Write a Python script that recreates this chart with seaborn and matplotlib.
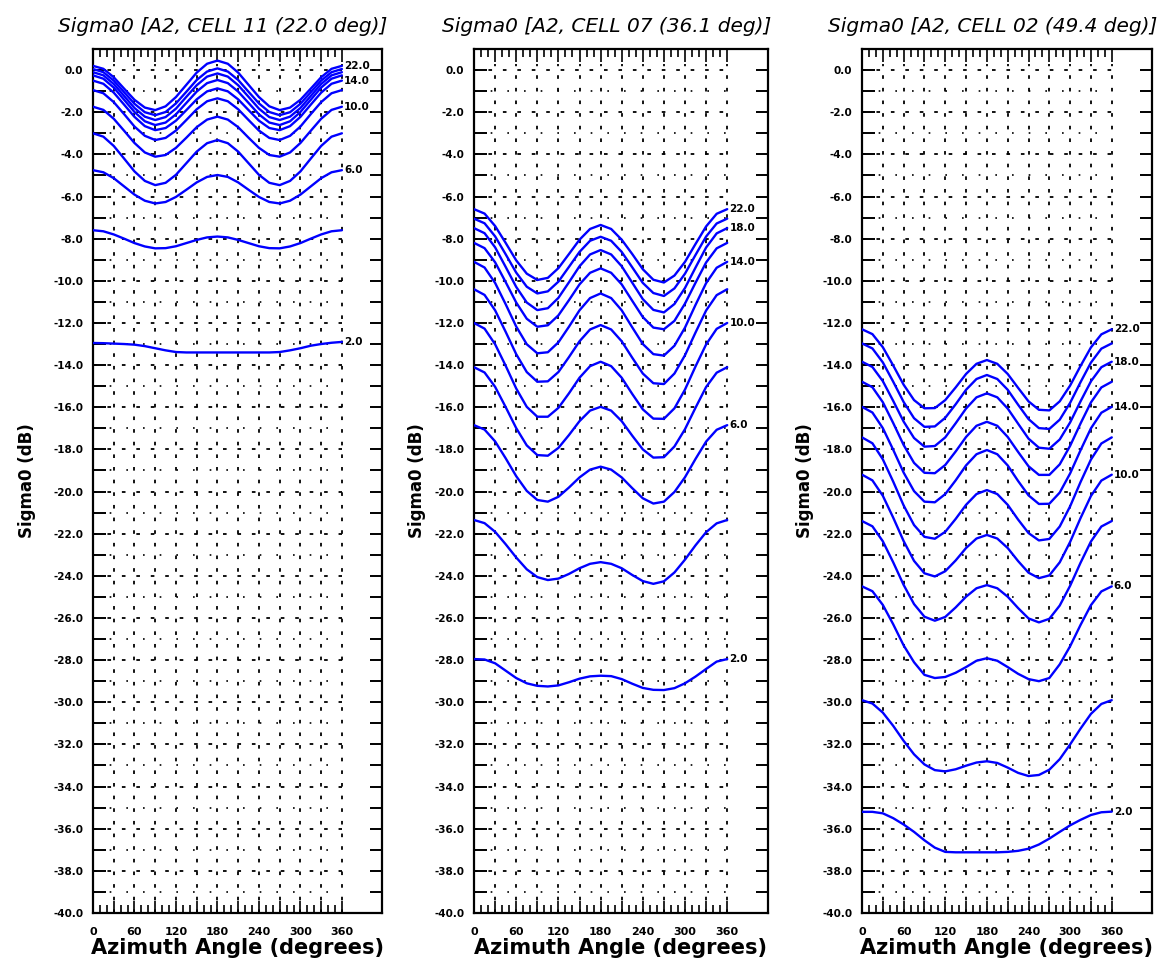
import numpy as np
import pandas as pd
import matplotlib
matplotlib.use("Agg")
import matplotlib.pyplot as plt
import seaborn as sns
from matplotlib.ticker import FixedLocator, MultipleLocator, FuncFormatter

# azimuth samples (degrees) and wind speeds (m/s), one curve per speed
azimuth = list(range(0, 361, 15))
wind_speeds = [22, 20, 18, 16, 14, 12, 10, 8, 6, 4, 2]

# CELL 11, incidence 22.0 deg
cell11_sigma0 = [
    [0.20, 0.06, -0.34, -0.88, -1.41, -1.78, -1.90, -1.72, -1.28, -0.70, -0.12, 0.30, 0.45, 0.30, -0.12, -0.70, -1.28, -1.72, -1.90, -1.78, -1.41, -0.88, -0.34, 0.06, 0.20],
    [0.05, -0.10, -0.50, -1.05, -1.60, -2.00, -2.14, -1.99, -1.58, -1.03, -0.47, -0.07, 0.08, -0.07, -0.47, -1.03, -1.58, -1.99, -2.14, -2.00, -1.60, -1.05, -0.50, -0.10, 0.05],
    [-0.10, -0.25, -0.66, -1.23, -1.80, -2.21, -2.37, -2.23, -1.83, -1.27, -0.72, -0.31, -0.16, -0.31, -0.72, -1.27, -1.83, -2.23, -2.37, -2.21, -1.80, -1.23, -0.66, -0.25, -0.10],
    [-0.25, -0.41, -0.83, -1.41, -1.99, -2.43, -2.61, -2.49, -2.10, -1.56, -1.02, -0.62, -0.47, -0.62, -1.02, -1.56, -2.10, -2.49, -2.61, -2.43, -1.99, -1.41, -0.83, -0.41, -0.25],
    [-0.50, -0.65, -1.07, -1.64, -2.22, -2.66, -2.85, -2.75, -2.40, -1.90, -1.39, -1.01, -0.87, -1.01, -1.39, -1.90, -2.40, -2.75, -2.85, -2.66, -2.22, -1.64, -1.07, -0.65, -0.50],
    [-0.95, -1.10, -1.52, -2.09, -2.68, -3.12, -3.32, -3.22, -2.87, -2.37, -1.86, -1.48, -1.34, -1.48, -1.86, -2.37, -2.87, -3.22, -3.32, -3.12, -2.68, -2.09, -1.52, -1.10, -0.95],
    [-1.74, -1.89, -2.31, -2.88, -3.46, -3.91, -4.11, -4.03, -3.69, -3.21, -2.71, -2.35, -2.21, -2.35, -2.71, -3.21, -3.69, -4.03, -4.11, -3.91, -3.46, -2.88, -2.31, -1.89, -1.74],
    [-3.00, -3.16, -3.60, -4.20, -4.81, -5.26, -5.46, -5.35, -4.97, -4.42, -3.87, -3.47, -3.32, -3.47, -3.87, -4.42, -4.97, -5.35, -5.46, -5.26, -4.81, -4.20, -3.60, -3.16, -3.00],
    [-4.75, -4.85, -5.13, -5.52, -5.91, -6.20, -6.33, -6.26, -6.02, -5.68, -5.33, -5.07, -4.98, -5.07, -5.33, -5.68, -6.02, -6.26, -6.33, -6.20, -5.91, -5.52, -5.13, -4.85, -4.75],
    [-7.60, -7.65, -7.80, -8.00, -8.21, -8.37, -8.46, -8.45, -8.36, -8.21, -8.06, -7.94, -7.90, -7.94, -8.06, -8.21, -8.36, -8.45, -8.46, -8.37, -8.21, -8.00, -7.80, -7.65, -7.60],
    [-12.95, -12.96, -12.98, -13.00, -13.03, -13.10, -13.20, -13.30, -13.38, -13.40, -13.40, -13.40, -13.40, -13.40, -13.40, -13.40, -13.40, -13.40, -13.38, -13.30, -13.20, -13.08, -13.00, -12.94, -12.90],
]

# CELL 07, incidence 36.1 deg
cell07_sigma0 = [
    [-6.60, -6.81, -7.40, -8.20, -9.03, -9.66, -9.96, -9.86, -9.40, -8.73, -8.05, -7.54, -7.35, -7.54, -8.05, -8.73, -9.45, -9.95, -10.08, -9.75, -9.10, -8.25, -7.42, -6.82, -6.60],
    [-7.05, -7.27, -7.89, -8.74, -9.61, -10.28, -10.60, -10.50, -10.04, -9.34, -8.63, -8.10, -7.91, -8.10, -8.63, -9.36, -10.10, -10.58, -10.72, -10.36, -9.66, -8.77, -7.90, -7.28, -7.05],
    [-7.50, -7.74, -8.41, -9.34, -10.29, -11.03, -11.39, -11.30, -10.81, -10.07, -9.31, -8.75, -8.54, -8.75, -9.31, -10.09, -10.87, -11.38, -11.50, -11.10, -10.34, -9.37, -8.42, -7.75, -7.50],
    [-8.20, -8.45, -9.12, -10.06, -11.03, -11.80, -12.18, -12.11, -11.64, -10.92, -10.17, -9.62, -9.41, -9.62, -10.17, -10.95, -11.72, -12.22, -12.30, -11.90, -11.08, -10.09, -9.13, -8.46, -8.20],
    [-9.10, -9.37, -10.10, -11.11, -12.17, -13.01, -13.44, -13.39, -12.92, -12.18, -11.40, -10.82, -10.60, -10.82, -11.40, -12.21, -13.00, -13.48, -13.55, -13.08, -12.22, -11.14, -10.11, -9.38, -9.10],
    [-10.40, -10.67, -11.40, -12.42, -13.48, -14.33, -14.79, -14.77, -14.33, -13.62, -12.87, -12.31, -12.10, -12.31, -12.87, -13.65, -14.40, -14.86, -14.90, -14.40, -13.53, -12.45, -11.41, -10.68, -10.40],
    [-12.00, -12.27, -13.01, -14.03, -15.11, -15.98, -16.45, -16.45, -16.03, -15.34, -14.60, -14.05, -13.84, -14.05, -14.60, -15.37, -16.10, -16.54, -16.55, -16.05, -15.16, -14.06, -13.02, -12.28, -12.00],
    [-14.10, -14.35, -15.03, -15.99, -16.99, -17.81, -18.27, -18.30, -17.93, -17.32, -16.66, -16.16, -15.98, -16.16, -16.66, -17.35, -18.00, -18.39, -18.37, -17.86, -17.04, -16.02, -15.04, -14.36, -14.10],
    [-16.85, -17.06, -17.62, -18.42, -19.27, -19.97, -20.40, -20.48, -20.25, -19.81, -19.33, -18.96, -18.82, -18.96, -19.33, -19.84, -20.32, -20.57, -20.48, -20.02, -19.32, -18.45, -17.63, -17.07, -16.85],
    [-21.35, -21.50, -21.91, -22.50, -23.13, -23.69, -24.06, -24.20, -24.13, -23.91, -23.64, -23.43, -23.35, -23.43, -23.64, -23.96, -24.25, -24.38, -24.26, -23.84, -23.23, -22.55, -21.93, -21.51, -21.35],
    [-27.95, -27.97, -28.15, -28.50, -28.85, -29.10, -29.22, -29.25, -29.20, -29.05, -28.88, -28.77, -28.74, -28.76, -28.90, -29.12, -29.32, -29.41, -29.42, -29.33, -29.10, -28.78, -28.42, -28.07, -27.95],
]

# CELL 02, incidence 49.4 deg
cell02_sigma0 = [
    [-12.30, -12.53, -13.15, -14.02, -14.93, -15.66, -16.05, -16.04, -15.66, -15.06, -14.42, -13.94, -13.76, -13.94, -14.42, -15.08, -15.72, -16.12, -16.15, -15.72, -14.97, -14.04, -13.16, -12.54, -12.30],
    [-12.97, -13.21, -13.87, -14.79, -15.75, -16.52, -16.93, -16.91, -16.50, -15.86, -15.17, -14.66, -14.47, -14.66, -15.17, -15.88, -16.56, -16.99, -17.03, -16.59, -15.79, -14.81, -13.88, -13.22, -12.97],
    [-13.84, -14.09, -14.76, -15.70, -16.68, -17.46, -17.87, -17.84, -17.43, -16.76, -16.06, -15.53, -15.34, -15.53, -16.06, -16.78, -17.49, -17.92, -17.97, -17.53, -16.72, -15.72, -14.77, -14.10, -13.84],
    [-14.79, -15.05, -15.76, -16.75, -17.79, -18.64, -19.11, -19.13, -18.74, -18.10, -17.41, -16.88, -16.69, -16.88, -17.41, -18.12, -18.80, -19.21, -19.21, -18.71, -17.83, -16.77, -15.77, -15.06, -14.79],
    [-15.98, -16.25, -16.99, -18.02, -19.10, -19.98, -20.48, -20.51, -20.12, -19.47, -18.76, -18.23, -18.03, -18.23, -18.76, -19.50, -20.18, -20.59, -20.58, -20.05, -19.14, -18.04, -17.00, -16.26, -15.98],
    [-17.43, -17.71, -18.47, -19.53, -20.66, -21.59, -22.15, -22.24, -21.91, -21.30, -20.63, -20.12, -19.93, -20.12, -20.63, -21.33, -21.97, -22.32, -22.25, -21.66, -20.70, -19.55, -18.48, -17.72, -17.43],
    [-19.20, -19.47, -20.20, -21.24, -22.35, -23.29, -23.88, -24.03, -23.78, -23.27, -22.68, -22.23, -22.06, -22.23, -22.68, -23.30, -23.85, -24.11, -23.98, -23.36, -22.39, -21.26, -20.21, -19.48, -19.20],
    [-21.40, -21.65, -22.36, -23.36, -24.43, -25.34, -25.94, -26.13, -25.95, -25.50, -24.99, -24.59, -24.44, -24.59, -24.99, -25.53, -26.02, -26.21, -26.04, -25.41, -24.47, -23.38, -22.37, -21.66, -21.40],
    [-24.50, -24.73, -25.38, -26.30, -27.30, -28.10, -28.70, -28.85, -28.80, -28.60, -28.33, -28.03, -27.91, -28.03, -28.33, -28.65, -28.90, -29.00, -28.85, -28.20, -27.34, -26.33, -25.39, -24.74, -24.50],
    [-29.90, -30.06, -30.49, -31.12, -31.83, -32.47, -32.95, -33.22, -33.28, -33.18, -33.01, -32.86, -32.80, -32.88, -33.10, -33.35, -33.50, -33.45, -33.20, -32.70, -32.00, -31.25, -30.55, -30.08, -29.90],
    [-35.20, -35.20, -35.27, -35.50, -35.80, -36.15, -36.55, -36.90, -37.10, -37.12, -37.12, -37.12, -37.12, -37.12, -37.10, -37.05, -36.95, -36.75, -36.47, -36.15, -35.84, -35.58, -35.35, -35.22, -35.19],
]

titles = [
    "Sigma0 [A2, CELL 11 (22.0 deg)]",
    "Sigma0 [A2, CELL 07 (36.1 deg)]",
    "Sigma0 [A2, CELL 02 (49.4 deg)]",
]
panels = [cell11_sigma0, cell07_sigma0, cell02_sigma0]
labelled_speeds = [[22, 14, 10, 6, 2], [22, 18, 14, 10, 6, 2], [22, 18, 14, 10, 6, 2]]

sns.set_style("white")
plt.rcParams["font.family"] = ["DejaVu Sans"]
plt.rcParams["text.color"] = "black"
plt.rcParams["axes.labelcolor"] = "black"
plt.rcParams["xtick.color"] = "black"
plt.rcParams["ytick.color"] = "black"

W, H = 1175, 976
fig = plt.figure(figsize=(W / 100, H / 100), dpi=100)

# panel frames in pixels (left, width)
frames = [(93, 289), (474, 294), (862, 290)]
ylabel_pads = [12, 6, 6]
bottom_px, top_px = 913, 49

blue = "#0000ff"
grid_x = list(range(30, 361, 30))
grid_y_major = list(range(-38, 1, 2))
grid_y_minor = list(range(-39, 0, 2))

for i, (data, title) in enumerate(zip(panels, titles)):
    left, width = frames[i]
    ax = fig.add_axes([left / W, 1 - bottom_px / H, width / W, (bottom_px - top_px) / H])

    rows = []
    for speed, curve in zip(wind_speeds, data):
        for a, v in zip(azimuth, curve):
            rows.append((a, v, speed))
    df = pd.DataFrame(rows, columns=["azimuth", "sigma0", "speed"])

    # dotted grid, only over the data range
    ax.vlines(grid_x, -40, 0.3, colors="black", linestyles=(0, (2, 5)), linewidth=1.3, zorder=1)
    ax.hlines(grid_y_major, 0, 360, colors="black", linestyles=(0, (2, 6)), linewidth=1.3, zorder=1)
    ax.hlines(grid_y_minor, 0, 360, colors="black", linestyles=(0, (1, 9)), linewidth=1.2, zorder=1)

    sns.lineplot(data=df, x="azimuth", y="sigma0", units="speed", estimator=None,
                 color=blue, linewidth=1.7, sort=False, ax=ax, zorder=3)

    for speed, curve in zip(wind_speeds, data):
        if speed in labelled_speeds[i]:
            ax.text(363, curve[-1], f"{speed:.1f}", fontsize=7.5, fontweight="bold",
                    ha="left", va="center", color="black")

    ax.set_xlim(0, 418)
    ax.set_ylim(-40, 1)

    ax.xaxis.set_major_locator(FixedLocator(list(range(0, 361, 30))))
    ax.xaxis.set_minor_locator(FixedLocator(list(range(0, 361, 10))))
    ax.xaxis.set_major_formatter(FuncFormatter(lambda x, p: f"{int(x)}" if int(x) % 60 == 0 else ""))
    ax.yaxis.set_major_locator(MultipleLocator(2))
    ax.yaxis.set_minor_locator(MultipleLocator(1))
    ax.yaxis.set_major_formatter(FuncFormatter(lambda y, p: f"{y + 0.0:.1f}"))

    ax.tick_params(axis="x", which="both", direction="in", top=True, bottom=True, width=1.2)
    ax.tick_params(axis="x", which="major", length=9, pad=10, labelsize=8)
    ax.tick_params(axis="x", which="minor", length=6)
    ax.tick_params(axis="y", which="both", direction="in", left=True, right=True, width=1.4)
    ax.tick_params(axis="y", which="major", length=9, pad=7, labelsize=7.5)
    ax.tick_params(axis="y", which="minor", length=9)
    for lab in ax.get_xticklabels() + ax.get_yticklabels():
        lab.set_fontweight("bold")

    for sp in ax.spines.values():
        sp.set_color("black")
        sp.set_linewidth(1.6)

    ax.set_xlabel("Azimuth Angle (degrees)", fontsize=15, fontweight="bold", labelpad=1)
    ax.set_ylabel("Sigma0 (dB)", fontsize=12, fontweight="bold", labelpad=ylabel_pads[i])
    ax.set_title(title, fontsize=14.5, style="italic", x=0.45, pad=12)

fig.savefig("out.png", dpi=100)
